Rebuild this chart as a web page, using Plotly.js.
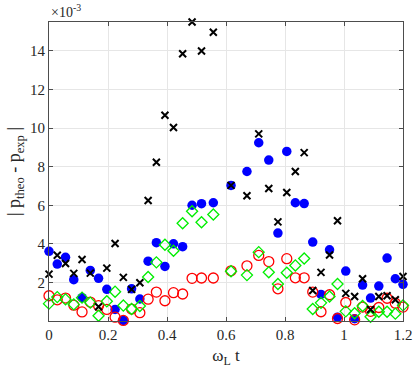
<!DOCTYPE html>
<html>
<head>
<meta charset="utf-8">
<script src="https://cdn.plot.ly/plotly-3.0.1.min.js"></script>
<style>
  html, body { margin: 0; padding: 0; background: #fff; }
  #chart { width: 415px; height: 371px; }
</style>
</head>
<body>
<div id="chart"></div>
<script>
// omega_L * t values
const omegaT = [0, 0.028, 0.056, 0.084, 0.112, 0.140, 0.168, 0.196, 0.224, 0.252,
  0.280, 0.308, 0.336, 0.364, 0.393, 0.422, 0.453, 0.485, 0.517, 0.557,
  0.617, 0.671, 0.711, 0.745, 0.776, 0.806, 0.835, 0.865, 0.894, 0.922,
  0.951, 0.978, 1.006, 1.036, 1.063, 1.090, 1.118, 1.146, 1.174, 1.200];

// |p_theo - p_exp| in units of 1e-3
const blackCross = [2.43, 3.41, 2.98, 2.47, 3.19, 2.48, 0.74, 2.74, 4.02, 2.26,
  1.64, 1.98, 6.25, 8.23, 10.67, 10.03, 13.85, 15.5, 14.0, 14.97,
  7.03, 6.49, 9.7, 6.87, 5.14, 6.66, 7.75, 8.73, 1.58, 2.52,
  3.42, 5.2, 1.43, 1.27, 2.19, 0.6, 1.27, 1.31, 1.1, 2.31];
const blueDot = [3.61, 2.95, 3.3, 2.14, 1.21, 2.62, 2.21, 1.64, 0.6, 0.03,
  1.67, 1.14, 3.1, 4.06, 2.83, 4.0, 3.85, 6.0, 6.08, 6.13,
  7.03, 7.75, 9.24, 8.34, 4.56, 8.79, 6.13, 6.09, 4.09, 1.38,
  3.69, 0.2, 2.59, 0.12, 1.86, 1.19, 1.81, 3.26, 2.19, 1.9];
const redCircle = [1.31, 1.1, 1.19, 0.82, 0.47, 0.98, 0.8, 0.6, 0.2, 0.03,
  0.62, 0.43, 1.13, 1.5, 1.05, 1.47, 1.4, 2.21, 2.23, 2.23,
  2.6, 2.86, 3.4, 3.08, 1.67, 3.23, 2.24, 2.24, 1.5, 0.48,
  1.36, 0.13, 0.96, 0.06, 0.72, 0.5, 0.7, 1.18, 0.92, 0.72];
const greenDiamond = [0.9, 1.24, 1.12, 0.86, 1.21, 0.95, 0.27, 1.02, 1.52, 0.8,
  0.62, 0.78, 2.28, 3.04, 3.95, 3.64, 5.07, 5.69, 5.12, 5.52,
  2.58, 2.38, 3.57, 2.53, 1.92, 2.5, 2.88, 3.24, 0.62, 0.94,
  1.27, 1.92, 0.5, 0.4, 0.78, 0.22, 0.48, 0.48, 0.38, 0.81];

const xTicks = [0, 0.2, 0.4, 0.6, 0.8, 1, 1.2];
const yTicks = [2, 4, 6, 8, 10, 12, 14];

const serif = 'Liberation Serif';

const traces = [
  {
    x: omegaT, y: blueDot, type: 'scatter', mode: 'markers', cliponaxis: false,
    marker: { symbol: 'circle', size: 9.5, color: '#0000ff' }
  },
  {
    x: omegaT, y: redCircle, type: 'scatter', mode: 'markers', cliponaxis: false,
    marker: { symbol: 'circle-open', size: 10, color: '#ff0000', line: { width: 1.3 } }
  },
  {
    x: omegaT, y: greenDiamond, type: 'scatter', mode: 'markers', cliponaxis: false,
    marker: { symbol: 'diamond-open', size: 8.5, color: '#00ee00', line: { width: 1.3 } }
  },
  {
    x: omegaT, y: blackCross, type: 'scatter', mode: 'markers', cliponaxis: false,
    marker: { symbol: 'x-thin-open', size: 7, color: '#000000', line: { width: 2 } }
  }
];

const axisCommon = {
  showline: true, linecolor: '#4d4d4d', linewidth: 1, mirror: 'allticks',
  ticks: 'inside', ticklen: 4, tickcolor: '#4d4d4d', tickwidth: 1,
  showgrid: true, gridcolor: '#e6e6e6', gridwidth: 1, zeroline: false,
  tickfont: { family: serif, size: 15, color: '#262626' }
};

const layout = {
  width: 415, height: 371,
  margin: { l: 49, r: 12, t: 22, b: 50 },
  paper_bgcolor: '#fff', plot_bgcolor: '#fff',
  showlegend: false,
  xaxis: Object.assign({}, axisCommon, {
    range: [0, 1.2], tickvals: xTicks,
    title: { text: 'ω<sub>L</sub> t', font: { family: serif, size: 17, color: '#262626' }, standoff: 7 }
  }),
  yaxis: Object.assign({}, axisCommon, {
    range: [0, 15.5], tickvals: yTicks,
    title: { text: '| p<sub>theo</sub> - p<sub>exp</sub> |', font: { family: serif, size: 18, color: '#262626' }, standoff: 4 }
  }),
  annotations: [{
    xref: 'paper', yref: 'paper', x: 0, y: 1, xanchor: 'left', yanchor: 'bottom',
    yshift: 0, showarrow: false,
    text: '×10<sup>-3</sup>', font: { family: serif, size: 14, color: '#262626' }
  }]
};

Plotly.newPlot('chart', traces, layout, { displayModeBar: false, staticPlot: true });
</script>
</body>
</html>
